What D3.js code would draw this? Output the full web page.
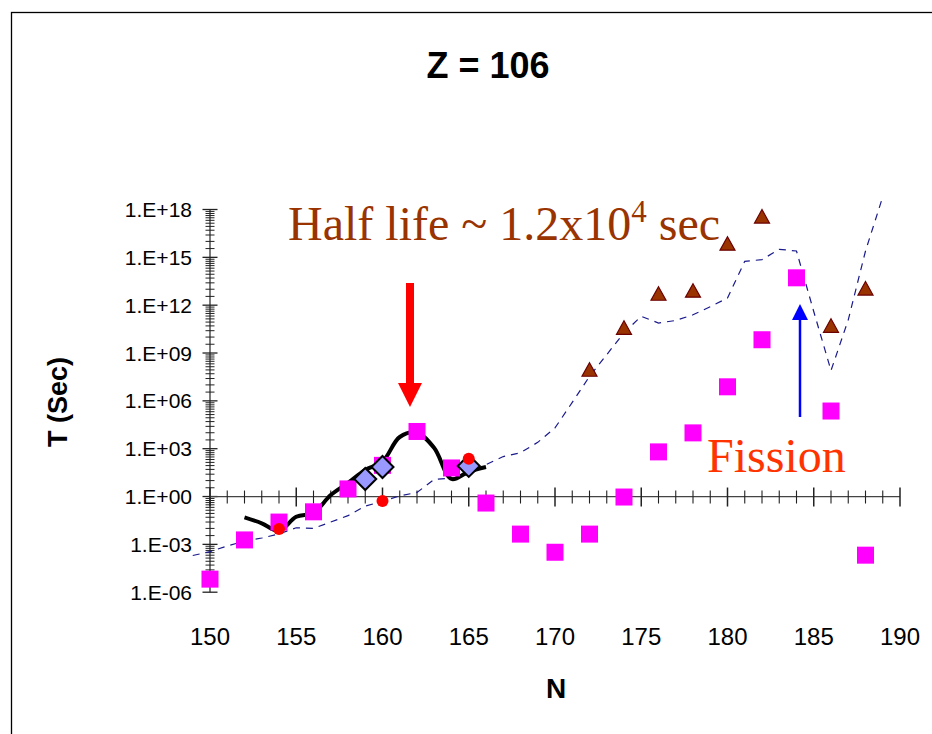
<!DOCTYPE html>
<html><head><meta charset="utf-8">
<script src="https://cdn.jsdelivr.net/npm/d3@7"></script>
<style>body{margin:0;background:#fff}svg{display:block}</style>
</head><body>
<svg id="c" width="932" height="734"></svg>
<script>
// ---- data ----
const titleText = "Z = 106";
const xTicks = [150,155,160,165,170,175,180,185,190];
const yTicks = [1e-6,1e-3,1e0,1e3,1e6,1e9,1e12,1e15,1e18];
const yTickLabels = ["1.E-06","1.E-03","1.E+00","1.E+03","1.E+06","1.E+09","1.E+12","1.E+15","1.E+18"];
// measured half-lives (magenta squares)
const sqN = [150,152,154,156,158,160,162,164,166,168,170,172,174,176,178,180,182,184,186,188];
const sqT = [6.6e-6,1.9e-3,2.5e-2,0.11,3.0,90,1.2e4,62,0.39,4.4e-3,3.2e-4,4.4e-3,0.93,630,9.8e3,7.6e6,6.8e9,5.2e13,2.3e5,2.1e-4];
// triangles
const triN = [172,174,176,178,180,182,186,188];
const triT = [8.9e7,3.8e10,5.2e12,8.1e12,7.2e15,3.6e17,5.1e10,1.1e13];
// red circles
const cirN = [154,160,165];
const cirT = [9.1e-3,0.52,230];
// diamonds
const diaN = [159,160,165];
const diaT = [12.6,71,83];
// black curve
const lineN = [152,153,154,155,156,157,158,159,160,161,162,163,164,165,166];
const lineT = [0.049,0.021,0.0071,0.054,0.095,1.23,7.1,46,155,5400,1.0e4,1100,12.6,36,71];
// dashed curve
const dashN = [149,150,151,152,153,154,155,156,157,158,159,160,161,162,163,164,165,166,167,168,169,170,171,172,173,174,175,176,177,178,179,180,181,182,183,184,185,186,187,188,189];
const dashT = [2.0e-4,3.5e-4,7.9e-4,1.6e-3,2.5e-3,4.5e-3,1.1e-2,1.0e-2,2.5e-2,6.3e-2,0.25,0.5,1.1,1.8,12,14,25,100,320,560,2500,2.0e4,8e5,3.4e7,7.9e8,1.9e10,2.0e11,7.6e10,1.1e11,2.5e11,8e11,2.8e12,5.6e14,7.2e14,3.2e15,2.5e15,4e11,7.9e7,1.2e11,2.5e15,6.3e18];

// ---- scales ----
const svg = d3.select("#c");
const x = d3.scaleLinear().domain([150,190]).range([210,900]);
const y = d3.scaleLog().domain([1e-6,1e18]).range([592.2,209.5]);

// frame
svg.append("rect").attr("x",11.5).attr("y",12.5).attr("width",1000).attr("height",1000)
  .attr("fill","none").attr("stroke","#000").attr("stroke-width",1.3);

// title
svg.append("text").attr("x",488).attr("y",78).attr("text-anchor","middle")
  .attr("font-family","Liberation Sans, Arial, sans-serif").attr("font-weight","bold")
  .attr("font-size",36).text(titleText);

// y axis
const yAxis = svg.append("g");
yAxis.append("line").attr("x1",x(150)).attr("x2",x(150)).attr("y1",y(1e18)).attr("y2",y(1e-6))
  .attr("stroke","#333").attr("stroke-width",1.3);
const minorD = [0.12,0.25,0.38,0.52,0.68,0.86,1.06,1.3,1.6,2.0,2.45];
for (let i=1;i<yTicks.length;i++){
  const U = yTicks[i];
  minorD.forEach(d=>{
    const v = U*Math.pow(10,-d);
    yAxis.append("line").attr("x1",x(150)-4.5).attr("x2",x(150)+4.5).attr("y1",y(v)).attr("y2",y(v))
      .attr("stroke","#222").attr("stroke-width",1);
  });
}
yTicks.forEach((t,i)=>{
  yAxis.append("line").attr("x1",x(150)-7.5).attr("x2",x(150)+7.5).attr("y1",y(t)).attr("y2",y(t))
    .attr("stroke","#222").attr("stroke-width",1.3);
  yAxis.append("text").attr("x",192).attr("y",y(t)).attr("dy","0.36em").attr("text-anchor","end")
    .attr("font-family","Liberation Sans, Arial, sans-serif").attr("font-size",21).text(yTickLabels[i]);
});

// x axis at T = 1
const xAxis = svg.append("g");
xAxis.append("line").attr("x1",x(150)).attr("x2",x(190)).attr("y1",y(1)).attr("y2",y(1))
  .attr("stroke","#444").attr("stroke-width",1.3);
d3.range(150,191).forEach(n=>{
  const major = n%5===0;
  xAxis.append("line").attr("x1",x(n)).attr("x2",x(n))
    .attr("y1",y(1)-(major?9:6)).attr("y2",y(1)+(major?10:7))
    .attr("stroke","#222").attr("stroke-width",major?1.5:1.1);
});
xTicks.forEach(n=>{
  xAxis.append("text").attr("x",x(n)).attr("y",645).attr("text-anchor","middle")
    .attr("font-family","Liberation Sans, Arial, sans-serif").attr("font-size",24).text(n);
});

// axis titles
svg.append("text").attr("x",556).attr("y",698).attr("text-anchor","middle")
  .attr("font-family","Liberation Sans, Arial, sans-serif").attr("font-weight","bold")
  .attr("font-size",28).text("N");
svg.append("text").attr("transform","translate(67,402) rotate(-90)").attr("text-anchor","middle")
  .attr("font-family","Liberation Sans, Arial, sans-serif").attr("font-weight","bold")
  .attr("font-size",27).text("T (Sec)");

// dashed curve
svg.append("path").datum(dashN.map((n,i)=>[n,dashT[i]]))
  .attr("d",d3.line().x(d=>x(d[0])).y(d=>y(d[1])))
  .attr("fill","none").attr("stroke","#1a1a8c").attr("stroke-width",1.2).attr("stroke-dasharray","7,6");

// black curve
svg.append("path").datum(lineN.map((n,i)=>[n,lineT[i]]))
  .attr("d",d3.line().x(d=>x(d[0])).y(d=>y(d[1])).curve(d3.curveCatmullRom.alpha(0.5)))
  .attr("fill","none").attr("stroke","#000").attr("stroke-width",4).attr("stroke-linejoin","round");

// squares
svg.append("g").selectAll("rect").data(sqN.map((n,i)=>[n,sqT[i]])).join("rect")
  .attr("x",d=>x(d[0])-8.5).attr("y",d=>y(d[1])-8.5).attr("width",17).attr("height",17)
  .attr("fill","#ff00ff");

// diamonds
svg.append("g").selectAll("path").data(diaN.map((n,i)=>[n,diaT[i]])).join("path")
  .attr("transform",d=>`translate(${x(d[0])},${y(d[1])})`)
  .attr("d","M0,-11L11,0L0,11L-11,0Z")
  .attr("fill","#9999ff").attr("stroke","#000").attr("stroke-width",2);

// circles
svg.append("g").selectAll("circle").data(cirN.map((n,i)=>[n,cirT[i]])).join("circle")
  .attr("cx",d=>x(d[0])).attr("cy",d=>y(d[1])).attr("r",6).attr("fill","#ff0000");

// triangles
svg.append("g").selectAll("path").data(triN.map((n,i)=>[n,triT[i]])).join("path")
  .attr("transform",d=>`translate(${x(d[0])},${y(d[1])})`)
  .attr("d","M0,-7L7.5,6.5L-7.5,6.5Z")
  .attr("fill","#993300").attr("stroke","#6b0000").attr("stroke-width",1.2);

// annotation: half life
const hl = svg.append("text").attr("x",288).attr("y",240)
  .attr("font-family","Liberation Serif, Times New Roman, serif").attr("font-size",48).attr("fill","#993300");
hl.append("tspan").text("Half life ~ 1.2x10");
hl.append("tspan").attr("dy",-18).attr("font-size",31).text("4");
hl.append("tspan").attr("dy",18).text(" sec");

// red arrow
svg.append("rect").attr("x",406).attr("y",283).attr("width",8).attr("height",102).attr("fill","#ff0000");
svg.append("path").attr("d","M398,383L422,383L410,407Z").attr("fill","#ff0000");

// blue arrow
svg.append("line").attr("x1",800).attr("x2",800).attr("y1",417).attr("y2",316).attr("stroke","#0000ff").attr("stroke-width",2.5);
svg.append("path").attr("d","M792,320L808,320L800,304Z").attr("fill","#0000ff");

// Fission
svg.append("text").attr("x",707).attr("y",472)
  .attr("font-family","Liberation Serif, Times New Roman, serif").attr("font-size",48).attr("fill","#ff3300")
  .text("Fission");
</script>
</body></html>
